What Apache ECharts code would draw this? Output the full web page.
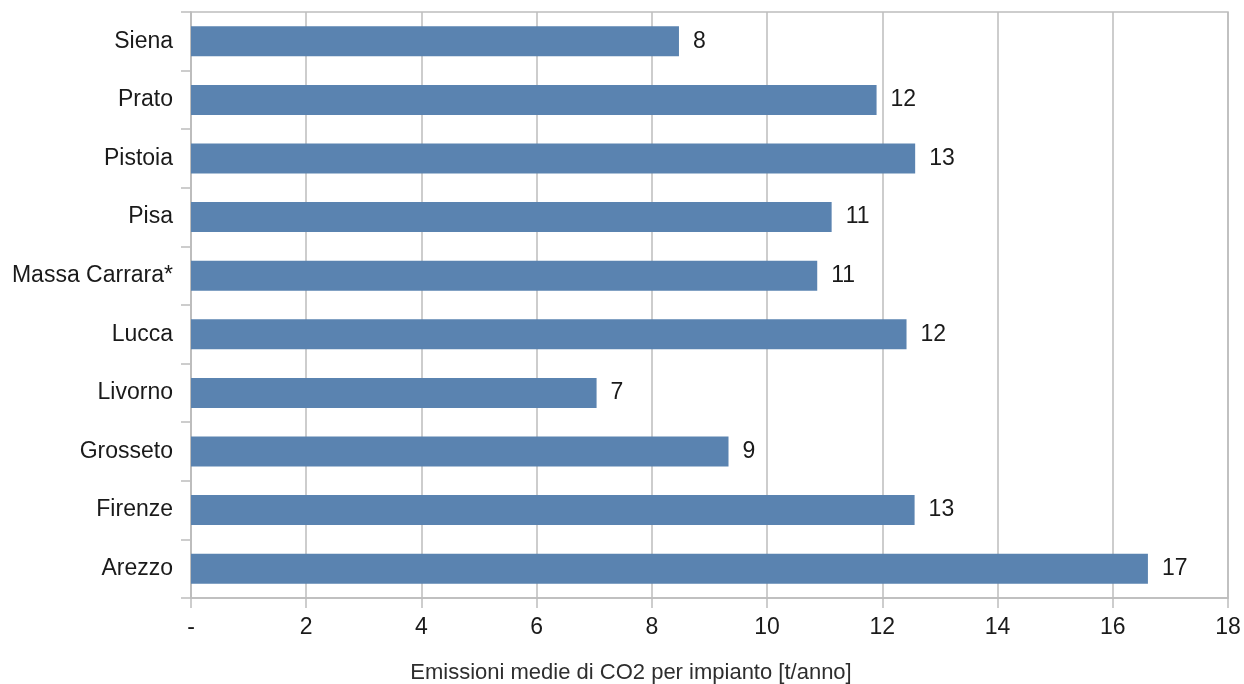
<!DOCTYPE html>
<html>
<head>
<meta charset="utf-8">
<title>Emissioni medie di CO2 per impianto</title>
<script src="https://cdn.jsdelivr.net/npm/echarts@6/dist/echarts.min.js"></script>
<style>
  html, body { margin: 0; padding: 0; background: #ffffff; }
  #chart { width: 1244px; height: 684px; }
</style>
</head>
<body>
<div id="chart"></div>
<script>
// Province (bottom to top) and average CO2 emissions per plant [t/anno]
const provinces = ['Arezzo', 'Firenze', 'Grosseto', 'Livorno', 'Lucca',
                   'Massa Carrara*', 'Pisa', 'Pistoia', 'Prato', 'Siena'];
const emissions = [16.61, 12.56, 9.33, 7.04, 12.42, 10.87, 11.12, 12.57, 11.90, 8.47];
const xTicks = { min: 0, max: 18, step: 2 };
const axisTitle = 'Emissioni medie di CO2 per impianto [t/anno]';

const font = '"Liberation Sans", Arial, sans-serif';
const textColor = '#1a1a1a';
const lineColor = '#bdbdbd';

const chart = echarts.init(document.getElementById('chart'));
chart.setOption({
  animation: false,
  grid: {
    left: 191, right: 16, top: 12, bottom: 86,
    show: true, borderColor: lineColor, borderWidth: 1.5
  },
  xAxis: {
    type: 'value',
    min: xTicks.min, max: xTicks.max, interval: xTicks.step,
    axisLine: { show: true, lineStyle: { color: lineColor, width: 1.5 } },
    axisTick: { show: true, length: 10, lineStyle: { color: lineColor, width: 1.5 } },
    splitLine: { show: true, lineStyle: { color: lineColor, width: 1.5 } },
    axisLabel: {
      margin: 18, fontSize: 23, color: textColor, fontFamily: font,
      formatter: v => (v === 0 ? '-' : String(v))
    }
  },
  yAxis: {
    type: 'category',
    data: provinces,
    axisLine: { show: true, lineStyle: { color: lineColor, width: 1.5 } },
    axisTick: { show: true, length: 10, lineStyle: { color: lineColor, width: 1.5 } },
    splitLine: { show: false },
    axisLabel: { margin: 18, fontSize: 23, color: textColor, fontFamily: font }
  },
  series: [{
    type: 'bar',
    data: emissions,
    barWidth: 30,
    itemStyle: { color: '#5a83b0' },
    label: {
      show: true, position: 'right', distance: 14,
      fontSize: 23, color: textColor, fontFamily: font,
      formatter: p => Math.round(p.value).toString()
    }
  }],
  graphic: [{
    type: 'text',
    x: 631, y: 673,
    style: {
      text: axisTitle,
      fontSize: 22, fontFamily: font, fill: '#2e2e2e',
      align: 'center', verticalAlign: 'middle'
    }
  }]
});
</script>
</body>
</html>
